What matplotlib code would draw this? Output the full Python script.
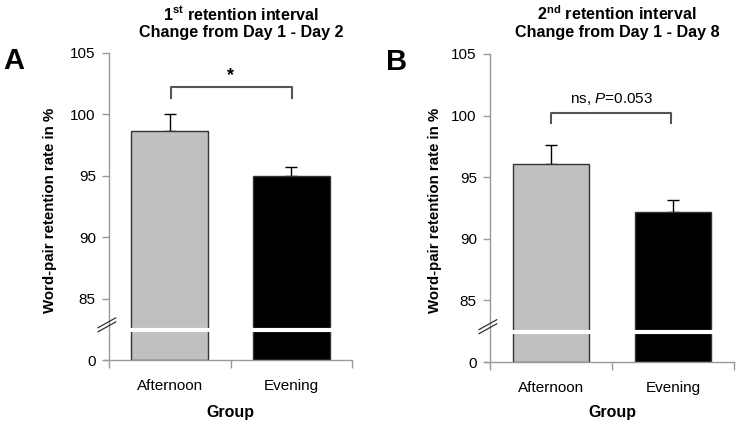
import matplotlib
matplotlib.use("Agg")
import matplotlib.pyplot as plt

plt.rcParams["font.family"] = ["Liberation Sans", "DejaVu Sans"]
plt.rcParams["mathtext.fontset"] = "custom"
plt.rcParams["mathtext.rm"] = "Liberation Sans"
plt.rcParams["mathtext.it"] = "Liberation Sans:italic"
plt.rcParams["mathtext.bf"] = "Liberation Sans:bold"

groups = ["Afternoon", "Evening"]
colors = ["#c0c0c0", "#000000"]
# mean retention (%) and upper SEM
vals_a = [98.65, 94.98]
err_a = [1.38, 0.70]
vals_b = [96.07, 92.18]
err_b = [1.54, 0.97]
yticks = [80, 85, 90, 95, 100, 105]
yticklabels = ["0", "85", "90", "95", "100", "105"]

W, H = 738, 426
fig = plt.figure(figsize=(W / 100, H / 100), dpi=100)


def px(x0, y0, x1, y1):
    return [x0 / W, 1 - y1 / H, (x1 - x0) / W, (y1 - y0) / H]


def panel(rect, vals, errs, letter, letter_xy, title, title_x, ylab_x, group_x):
    ax = fig.add_axes(rect)
    xs = [0.5, 1.5]
    bw = 0.63
    ax.bar(xs, [v - 80 for v in vals], bottom=80, width=bw, color=colors,
           edgecolor="#333333", linewidth=1.0, zorder=2)
    ax.errorbar(xs, vals, yerr=[[0, 0], errs], fmt="none", ecolor="black",
                elinewidth=1.0, capsize=4.5, capthick=1.0, zorder=1)
    # axis break
    for x in xs:
        ax.plot([x - bw / 2 - 0.02, x + bw / 2 + 0.02], [82.45, 82.45],
                color="white", lw=3, zorder=3, solid_capstyle="butt")
    for dy in (0, 0.33):
        ax.plot([-0.09, 0.055], [82.3 + dy, 83.1 + dy], color="#333333",
                lw=0.9, clip_on=False, zorder=4)
    ax.set_xlim(0, 2)
    ax.set_ylim(80, 105)
    ax.set_yticks(yticks)
    ax.set_yticklabels(yticklabels, fontsize=11)
    ax.set_xticks([0, 1, 2])
    ax.set_xticklabels([])
    ax.set_xticks(xs, minor=True)
    ax.set_xticklabels(groups, minor=True, fontsize=11)
    ax.tick_params(axis="x", which="major", direction="out", length=6,
                   color="#999999", width=1)
    ax.tick_params(axis="x", which="minor", length=0, pad=14)
    ax.tick_params(axis="y", direction="out", length=5, color="#999999",
                   width=1, pad=4.5)
    for s in ("top", "right"):
        ax.spines[s].set_visible(False)
    for s in ("left", "bottom"):
        ax.spines[s].set_color("#999999")
        ax.spines[s].set_linewidth(1)
    ax.spines["bottom"].set_bounds(-0.04, 2)
    fig.text(letter_xy[0] / W, 1 - letter_xy[1] / H, letter, fontsize=21,
             fontweight="bold", ha="center", va="center")
    fig.text(title_x / W, 1 - 14 / H, title[0], fontsize=11.6,
             fontweight="bold", ha="center", va="center")
    fig.text(title_x / W, 1 - 33 / H, title[1], fontsize=11.6,
             fontweight="bold", ha="center", va="center")
    fig.text(ylab_x / W, 1 - 210 / H, "Word-pair retention rate in %",
             fontsize=10.8, fontweight="bold", rotation=90,
             ha="center", va="center")
    fig.text(group_x / W, 1 - 413 / H, "Group", fontsize=11.5,
             fontweight="bold", ha="center", va="center")
    return ax


ax1 = panel(px(109, 53, 352, 360), vals_a, err_a, "A", (14, 61),
            [r"1$^{\mathbf{st}}$ retention interval", "Change from Day 1 - Day 2"],
            241, 50, 230)
ax1.plot([0.514, 0.514, 1.504, 1.504], [101.3, 102.2, 102.2, 101.3],
         color="#555555", lw=1.5)
ax1.text(1.0, 103.2, "*", fontsize=13, fontweight="bold", ha="center",
         va="center")

ax2 = panel(px(490, 54, 734, 362), vals_b, err_b, "B", (397, 62),
            [r"2$^{\mathbf{nd}}$ retention interval", "Change from Day 1 - Day 8"],
            617, 435, 612)
ax2.plot([0.5, 0.5, 1.485, 1.485], [99.4, 100.24, 100.24, 99.4],
         color="#555555", lw=1.5)
ax2.text(1.0, 101.35, r"ns, $P$=0.053", fontsize=11, ha="center",
         va="center")

fig.savefig("out.png", dpi=100)
